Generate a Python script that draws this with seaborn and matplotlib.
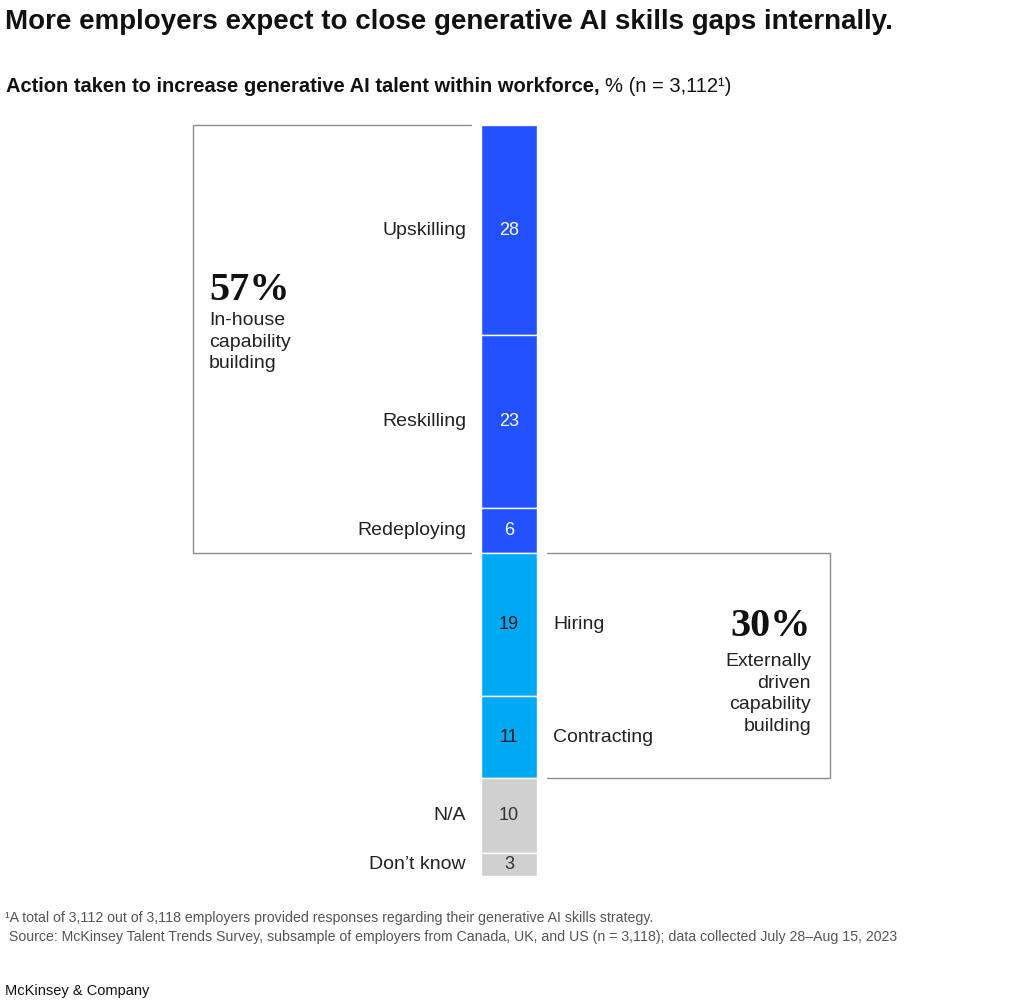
import pandas as pd
import matplotlib
matplotlib.use("Agg")
import matplotlib.pyplot as plt
import matplotlib.transforms as mtransforms
import seaborn as sns

# --- data ---
actions = ["Upskilling", "Reskilling", "Redeploying", "Hiring", "Contracting", "N/A", "Don’t know"]
shares = [28, 23, 6, 19, 11, 10, 3]
groups = ["in-house", "in-house", "in-house", "external", "external", "other", "other"]
group_notes = {
    "in-house": "In-house\ncapability\nbuilding",
    "external": "Externally\ndriven\ncapability\nbuilding",
}

title = "More employers expect to close generative AI skills gaps internally."
subtitle_bold = "Action taken to increase generative AI talent within workforce,"
subtitle_rest = "% (n = 3,112¹)"
footnote = "¹A total of 3,112 out of 3,118 employers provided responses regarding their generative AI skills strategy."
source = " Source: McKinsey Talent Trends Survey, subsample of employers from Canada, UK, and US (n = 3,118); data collected July 28–Aug 15, 2023"
brand = "McKinsey & Company"

df = pd.DataFrame({"action": actions, "share": shares, "group": groups})
df["bottom"] = df["share"].cumsum() - df["share"]
df["mid"] = df["bottom"] + df["share"] / 2
df["bar"] = "all"

palette = {"in-house": "#2251FF", "external": "#00A9F4", "other": "#D0D0D0"}
value_colors = {"in-house": "white", "external": "#1a1a1a", "other": "#333333"}
label_side = {"in-house": "left", "external": "right", "other": "left"}

sns.set_theme(style="white")
plt.rcParams["font.family"] = ["Liberation Sans", "DejaVu Sans"]

W, H = 1027, 1000
fig = plt.figure(figsize=(W / 100, H / 100), dpi=100)
ax = fig.add_axes([0, 1 - 876 / H, 1, (876 - 125) / H])

# --- stacked single bar, one segment at a time ---
for _, row in df.iterrows():
    sns.barplot(x=[row["bar"]], y=[row["share"]], bottom=row["bottom"],
                color=palette[row["group"]], saturation=1, width=0.8,
                errorbar=None, edgecolor="white", linewidth=1, ax=ax)

ax.set_ylim(df["share"].sum(), 0)
k = 0.8 / 56  # bar is 56 px wide
ax.set_xlim(-509 * k, (W - 509) * k)
ax.axis("off")

trans = mtransforms.blended_transform_factory(ax.transAxes, ax.transData)

# value labels and category labels
for _, row in df.iterrows():
    ax.text(0, row["mid"], str(row["share"]), ha="center", va="center",
            fontsize=13, color=value_colors[row["group"]])
    if label_side[row["group"]] == "left":
        ax.text(466 / W, row["mid"], row["action"], transform=trans,
                ha="right", va="center", fontsize=14, color="#222222")
    else:
        ax.text(553 / W, row["mid"], row["action"], transform=trans,
                ha="left", va="center", fontsize=14, color="#222222")

# --- group boxes ---
box_col = "#8C8C8C"
inh = df[df["group"] == "in-house"]
y0, y1 = inh["bottom"].min(), (inh["bottom"] + inh["share"]).max()
ax.plot([471 / W, 193 / W, 193 / W, 471 / W], [y0, y0, y1, y1], transform=trans,
        color=box_col, lw=1, clip_on=False)
ext = df[df["group"] == "external"]
y0, y1 = ext["bottom"].min(), (ext["bottom"] + ext["share"]).max()
ax.plot([547 / W, 830 / W, 830 / W, 547 / W], [y0, y0, y1, y1], transform=trans,
        color=box_col, lw=1, clip_on=False)

serif = ["Liberation Serif", "DejaVu Serif"]
fig.text(209 / W, 1 - 290 / H, f"{inh['share'].sum()}%", family=serif, weight="bold",
         fontsize=29, va="center", ha="left", color="#111111")
fig.text(209 / W, 1 - 312 / H, group_notes["in-house"], fontsize=14, va="top",
         ha="left", linespacing=1.36, color="#222222")
fig.text(811 / W, 1 - 626 / H, f"{ext['share'].sum()}%", family=serif, weight="bold",
         fontsize=29, va="center", ha="right", color="#111111")
fig.text(811 / W, 1 - 653 / H, group_notes["external"], fontsize=14, va="top",
         ha="right", multialignment="right", linespacing=1.36, color="#222222")

# --- titles and notes ---
fig.text(5 / W, 1 - 22 / H, title, fontsize=20, weight="bold", va="center", color="#111111")
t1 = fig.text(6 / W, 1 - 86 / H, subtitle_bold, fontsize=14.5, weight="bold",
              va="center", color="#111111")
ax.annotate(subtitle_rest, xy=(1, 0), xycoords=t1, xytext=(4, 0),
            textcoords="offset points", va="bottom", ha="left", fontsize=14.5,
            color="#111111", annotation_clip=False)

fig.text(5 / W, 1 - 918 / H, footnote, fontsize=10.2, color="#555555", va="center")
fig.text(5 / W, 1 - 937 / H, source, fontsize=10.2, color="#555555", va="center")
fig.text(5 / W, 1 - 991 / H, brand, fontsize=10.5, color="#111111", va="center")

fig.savefig("out.png", dpi=100)
